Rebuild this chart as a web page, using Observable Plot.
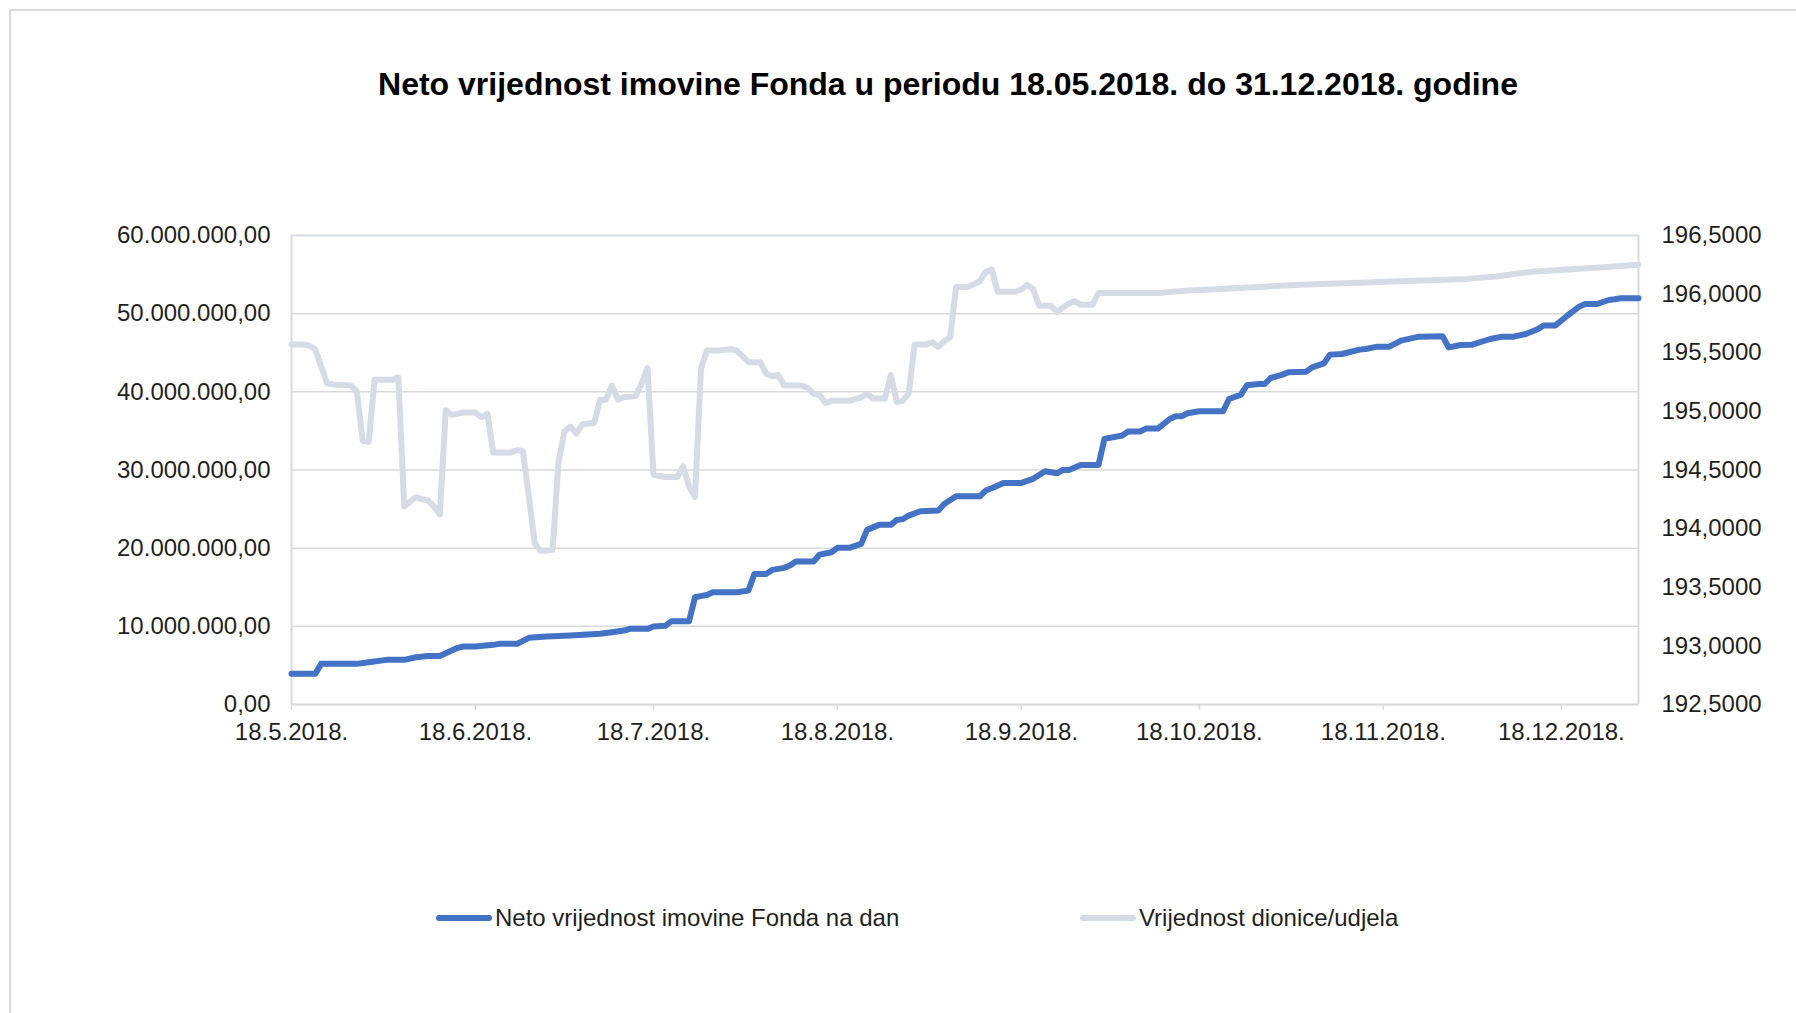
<!DOCTYPE html>
<html>
<head>
<meta charset="utf-8">
<script src="https://cdn.jsdelivr.net/npm/d3@7"></script>
<script src="https://cdn.jsdelivr.net/npm/@observablehq/plot@0.6"></script>
<style>
  html, body { margin: 0; padding: 0; background: #fff; }
  #chart { position: relative; width: 1796px; height: 1013px; overflow: hidden; font-family: "Liberation Sans", Arial, sans-serif; color: #1f1f1f; }
  #frame { position: absolute; left: 9px; top: 9px; width: 2000px; height: 2000px; border: 2px solid #D9D9D9; box-sizing: border-box; pointer-events: none; }
  #title { height: 180px; box-sizing: border-box; padding: 66px 0 0 100px; width: 1796px; text-align: center; font-weight: bold; font-size: 32px; line-height: 36px; color: #000; }
  #plot svg { display: block; }
  #legend { position: relative; height: 233px; font-size: 24px; }
  .item { position: absolute; top: 123px; height: 30px; line-height: 30px; white-space: nowrap; display: flex; align-items: center; }
  .sw { display: inline-block; width: 56px; height: 6px; border-radius: 3px; margin-right: 3px; }
</style>
</head>
<body>
<div id="chart">
  <div id="frame"></div>
  <div id="title"></div>
  <div id="plot"></div>
  <div id="legend"></div>
</div>
<script>
// ---- data ----
const titleText = "Neto vrijednost imovine Fonda u periodu 18.05.2018. do 31.12.2018. godine";
const seriesNames = ["Neto vrijednost imovine Fonda na dan", "Vrijednost dionice/udjela"];
const startDate = "2018-05-18";
const endDate = "2018-12-31";

// Neto vrijednost imovine (days after 18.5.2018, millions)
const navDays = [0,4,5,11,13,16,19,21,23,25,28,29,31,34,35,38,40,43,47,52,54,56,57,60,61,63,64,67,68,70,71,75,77,78,80,81,83,84,85,88,89,91,92,94,96,97,99,101,102,103,104,106,109,110,112,116,117,118,120,123,125,127,129,130,131,133,136,137,140,141,143,144,146,148,149,150,151,153,157,158,160,161,163,164,165,167,168,171,172,174,175,177,180,181,183,185,187,190,194,195,197,199,202,204,206,208,210,211,213,215,217,218,220,222,223,224,227];
const navMillions = [3.92,3.92,5.2,5.2,5.41,5.71,5.71,6.05,6.2,6.2,7.25,7.42,7.42,7.63,7.76,7.76,8.53,8.7,8.82,9.04,9.25,9.46,9.68,9.68,9.98,10.06,10.65,10.65,13.72,14.02,14.36,14.36,14.57,16.71,16.71,17.22,17.48,17.78,18.29,18.3,19.18,19.48,20.04,20.04,20.55,22.34,22.98,22.98,23.62,23.7,24.17,24.73,24.81,25.66,26.64,26.64,27.37,27.67,28.35,28.35,28.87,29.84,29.58,30.01,30.01,30.65,30.65,33.98,34.41,34.92,34.92,35.3,35.3,36.53,36.87,36.87,37.26,37.51,37.51,39.09,39.65,40.83,41.0,41.0,41.77,42.2,42.5,42.58,43.13,43.65,44.76,44.84,45.4,45.48,45.78,45.78,46.55,47.06,47.1,45.69,45.99,46.03,46.76,47.06,47.06,47.4,48.0,48.5,48.5,49.74,50.9,51.24,51.24,51.75,51.84,51.97,51.97];

// Vrijednost dionice/udjela (days after 18.5.2018)
const priceDays = [0,2,3,4,6,7,10,11,12,13,14,16,17,18,19,21,22,23,24,25,26,27,29,31,32,33,34,37,38,39,40,41,42,44,45,46,47,48,49,51,52,53,54,55,56,58,59,60,61,63,65,66,67,68,69,70,72,74,75,77,79,80,81,82,83,86,87,88,89,90,91,94,96,97,98,100,101,102,103,104,105,107,108,109,110,111,112,114,116,117,118,119,122,123,124,125,126,128,129,131,132,133,135,136,146,151,155,159,163,166,170,176,181,187,193,198,203,209,215,221,227];
const priceValues = [195.57,195.57,195.56,195.53,195.24,195.23,195.22,195.17,194.75,194.74,195.27,195.27,195.27,195.29,194.19,194.27,194.25,194.24,194.19,194.12,195.01,194.97,194.99,194.99,194.95,194.98,194.65,194.65,194.67,194.66,194.27,193.87,193.81,193.82,194.57,194.83,194.87,194.81,194.89,194.90,195.10,195.10,195.22,195.10,195.12,195.13,195.24,195.37,194.46,194.44,194.44,194.53,194.36,194.27,195.36,195.52,195.52,195.53,195.52,195.42,195.42,195.32,195.30,195.31,195.22,195.22,195.20,195.15,195.14,195.07,195.09,195.09,195.12,195.15,195.11,195.11,195.31,195.08,195.09,195.15,195.57,195.57,195.59,195.55,195.60,195.63,196.06,196.06,196.11,196.19,196.21,196.02,196.02,196.04,196.08,196.04,195.90,195.90,195.85,195.92,195.94,195.91,195.91,196.01,196.01,196.03,196.04,196.05,196.06,196.07,196.08,196.09,196.10,196.11,196.12,196.13,196.15,196.19,196.21,196.23,196.25];

const leftTicks = [0, 10000000, 20000000, 30000000, 40000000, 50000000, 60000000];
const rightTicks = [192.5, 193, 193.5, 194, 194.5, 195, 195.5, 196, 196.5];
const xTickDates = ["2018-05-18","2018-06-18","2018-07-18","2018-08-18","2018-09-18","2018-10-18","2018-11-18","2018-12-18"];

const colors = ["#4472C4", "#D6DCE5"];

// ---- build ----
const parse = d3.utcParse("%Y-%m-%d");
const start = parse(startDate), end = parse(endDate);
const rMin = rightTicks[0], rMax = rightTicks[rightTicks.length - 1];
const lMin = leftTicks[0], lMax = leftTicks[leftTicks.length - 1];
const toLeft = v => lMin + (v - rMin) / (rMax - rMin) * (lMax - lMin);
const fromLeft = v => rMin + (v - lMin) / (lMax - lMin) * (rMax - rMin);

const loc = d3.formatLocale({decimal: ",", thousands: ".", grouping: [3], currency: ["", ""]});
const fmtL = loc.format(",.2f");
const fmtR = loc.format(".4f");
const fmtX = d => `${d.getUTCDate()}.${d.getUTCMonth() + 1}.${d.getUTCFullYear()}.`;

const nav = navDays.map((d, i) => ({date: d3.utcDay.offset(start, d), value: navMillions[i] * 1e6}));
const price = priceDays.map((d, i) => ({date: d3.utcDay.offset(start, d), value: toLeft(priceValues[i])}));

document.getElementById("title").textContent = titleText;

const chart = Plot.plot({
  width: 1796,
  height: 600,
  marginLeft: 291,
  marginRight: 158,
  marginTop: 55,
  marginBottom: 76,
  style: {fontFamily: "'Liberation Sans', Arial, sans-serif", fontSize: "24px", color: "#1f1f1f", background: "transparent", overflow: "visible"},
  x: {type: "utc", domain: [start, end]},
  y: {domain: [lMin, lMax]},
  marks: [
    Plot.ruleY(leftTicks.slice(0, -1), {stroke: "#D9D9D9", strokeWidth: 1.5}),
    Plot.ruleY([lMax], {stroke: "#D6DCE5", strokeWidth: 2}),
    Plot.ruleX([start, end], {stroke: "#D6DCE5", strokeWidth: 2}),
    Plot.ruleY([lMin], {stroke: "#D9D9D9", strokeWidth: 2}),
    Plot.axisX({ticks: xTickDates.map(parse), tickFormat: fmtX, tickSize: 6, tickPadding: 12, stroke: "#D9D9D9", strokeWidth: 1.5, label: null}),
    Plot.axisY({anchor: "left", ticks: leftTicks, tickFormat: fmtL, tickSize: 0, tickPadding: 21, label: null}),
    Plot.axisY({anchor: "right", ticks: rightTicks.map(toLeft), tickFormat: v => fmtR(fromLeft(v)), tickSize: 0, tickPadding: 23, label: null}),
    Plot.line(price, {x: "date", y: "value", stroke: colors[1], strokeWidth: 6}),
    Plot.line(nav, {x: "date", y: "value", stroke: colors[0], strokeWidth: 6})
  ]
});
document.getElementById("plot").appendChild(chart);

// legend
const legend = document.getElementById("legend");
const legendX = [436, 1080];
seriesNames.forEach((name, i) => {
  const item = document.createElement("div");
  item.className = "item";
  item.style.left = legendX[i] + "px";
  const sw = document.createElement("span");
  sw.className = "sw";
  sw.style.background = colors[i];
  const tx = document.createElement("span");
  tx.textContent = name;
  item.appendChild(sw);
  item.appendChild(tx);
  legend.appendChild(item);
});
</script>
</body>
</html>
